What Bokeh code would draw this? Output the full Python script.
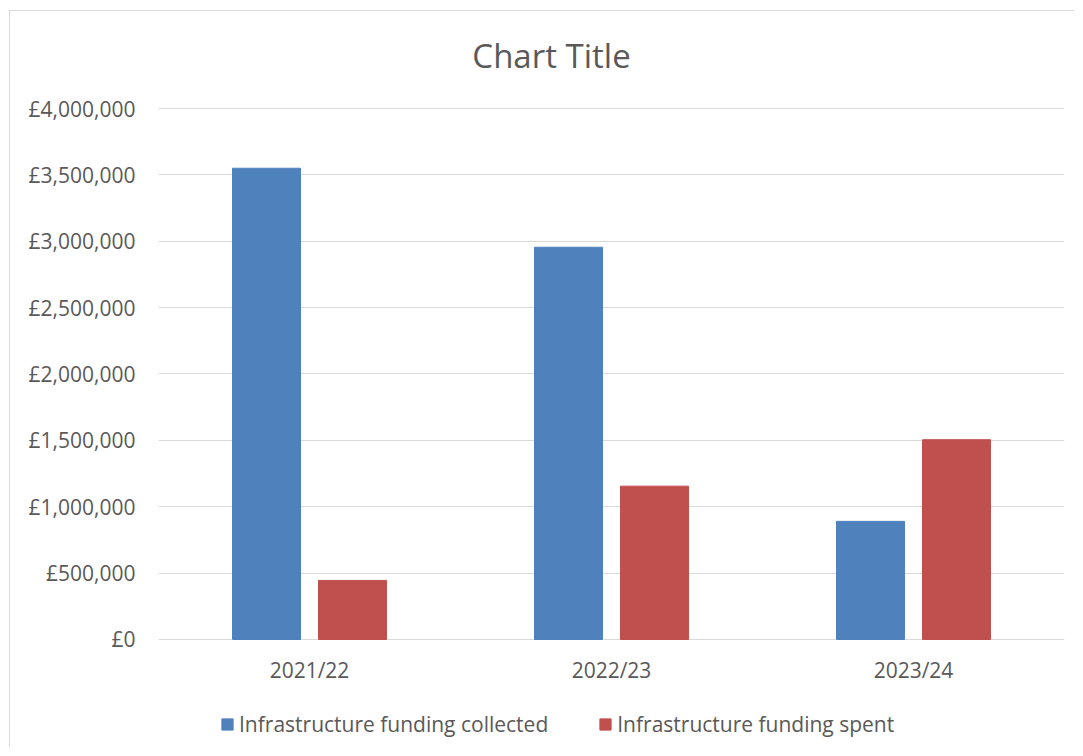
from bokeh.plotting import figure
from bokeh.models import FactorRange, Range1d, FixedTicker, Legend, LegendItem, ColumnDataSource
from bokeh.transform import dodge
from bokeh.core.properties import value
from bokeh.embed import file_html
from bokeh.resources import INLINE

title_text = "Chart Title"
years = ["2021/22", "2022/23", "2023/24"]
collected = [3550000, 2955000, 890000]
spent = [445000, 1155000, 1505000]
series_names = ["Infrastructure funding collected", "Infrastructure funding spent"]
y_ticks = [0, 500000, 1000000, 1500000, 2000000, 2500000, 3000000, 3500000, 4000000]
y_tick_labels = ["£0", "£500,000", "£1,000,000", "£1,500,000", "£2,000,000",
                 "£2,500,000", "£3,000,000", "£3,500,000", "£4,000,000"]

FONT = "Open Sans"
TXT = "#595959"

src = ColumnDataSource(dict(year=years, collected=collected, spent=spent, base=[0, 0, 0]))

p = figure(width=1065, height=737, x_range=FactorRange(factors=years, range_padding=0),
           y_range=Range1d(-798500, 4730700), output_backend="svg", toolbar_location=None,
           x_axis_location=None,
           min_border_left=148, min_border_right=11, min_border_top=0, min_border_bottom=3)
p.styles = {"border-left": "1px solid #d9d9d9", "border-top": "1px solid #d9d9d9",
            "margin-left": "9px", "margin-top": "10px"}
p.outline_line_color = None
p.background_fill_color = "white"
p.border_fill_color = "white"

r1 = p.vbar(x=dodge("year", -0.1424, range=p.x_range), top="collected", width=0.225,
            source=src, fill_color="#4F81BD", line_color="#4F81BD")
r2 = p.vbar(x=dodge("year", 0.1424, range=p.x_range), top="spent", width=0.225,
            source=src, fill_color="#C0504D", line_color="#C0504D")

# category labels below the zero line
p.text(x="year", y="base", text="year", source=src, y_offset=31,
       text_align="center", text_baseline="middle", text_font=value(FONT),
       text_font_size="21px", text_color=TXT)

# chart title, above the top gridline
p.text(x=[years[1]], y=[y_ticks[-1]], text=[title_text], x_offset=-60, y_offset=-53,
       text_align="center", text_baseline="middle", text_font=value(FONT),
       text_font_size="33px", text_color=TXT)

p.yaxis.ticker = FixedTicker(ticks=y_ticks)
p.yaxis.major_label_overrides = {t_: l for t_, l in zip(y_ticks, y_tick_labels)}
p.yaxis.axis_line_color = None
p.yaxis.major_tick_line_color = None
p.yaxis.minor_tick_line_color = None
p.yaxis.major_label_standoff = 17
p.yaxis.major_label_text_font = FONT
p.yaxis.major_label_text_font_size = "21px"
p.yaxis.major_label_text_color = TXT

p.xgrid.grid_line_color = None
p.ygrid.ticker = FixedTicker(ticks=y_ticks)
p.ygrid.grid_line_color = "#d9d9d9"
p.ygrid.grid_line_width = 1

legend = Legend(items=[LegendItem(label=series_names[0], renderers=[r1]),
                       LegendItem(label=series_names[1], renderers=[r2])],
                orientation="horizontal", location=(62, 7), padding=0, margin=0,
                border_line_color=None, background_fill_alpha=0,
                glyph_width=14, glyph_height=14, label_standoff=5, spacing=50,
                label_text_font=FONT, label_text_font_size="21px", label_text_color=TXT)
p.add_layout(legend, "center")

open("out.html", "w").write(file_html(p, INLINE))
